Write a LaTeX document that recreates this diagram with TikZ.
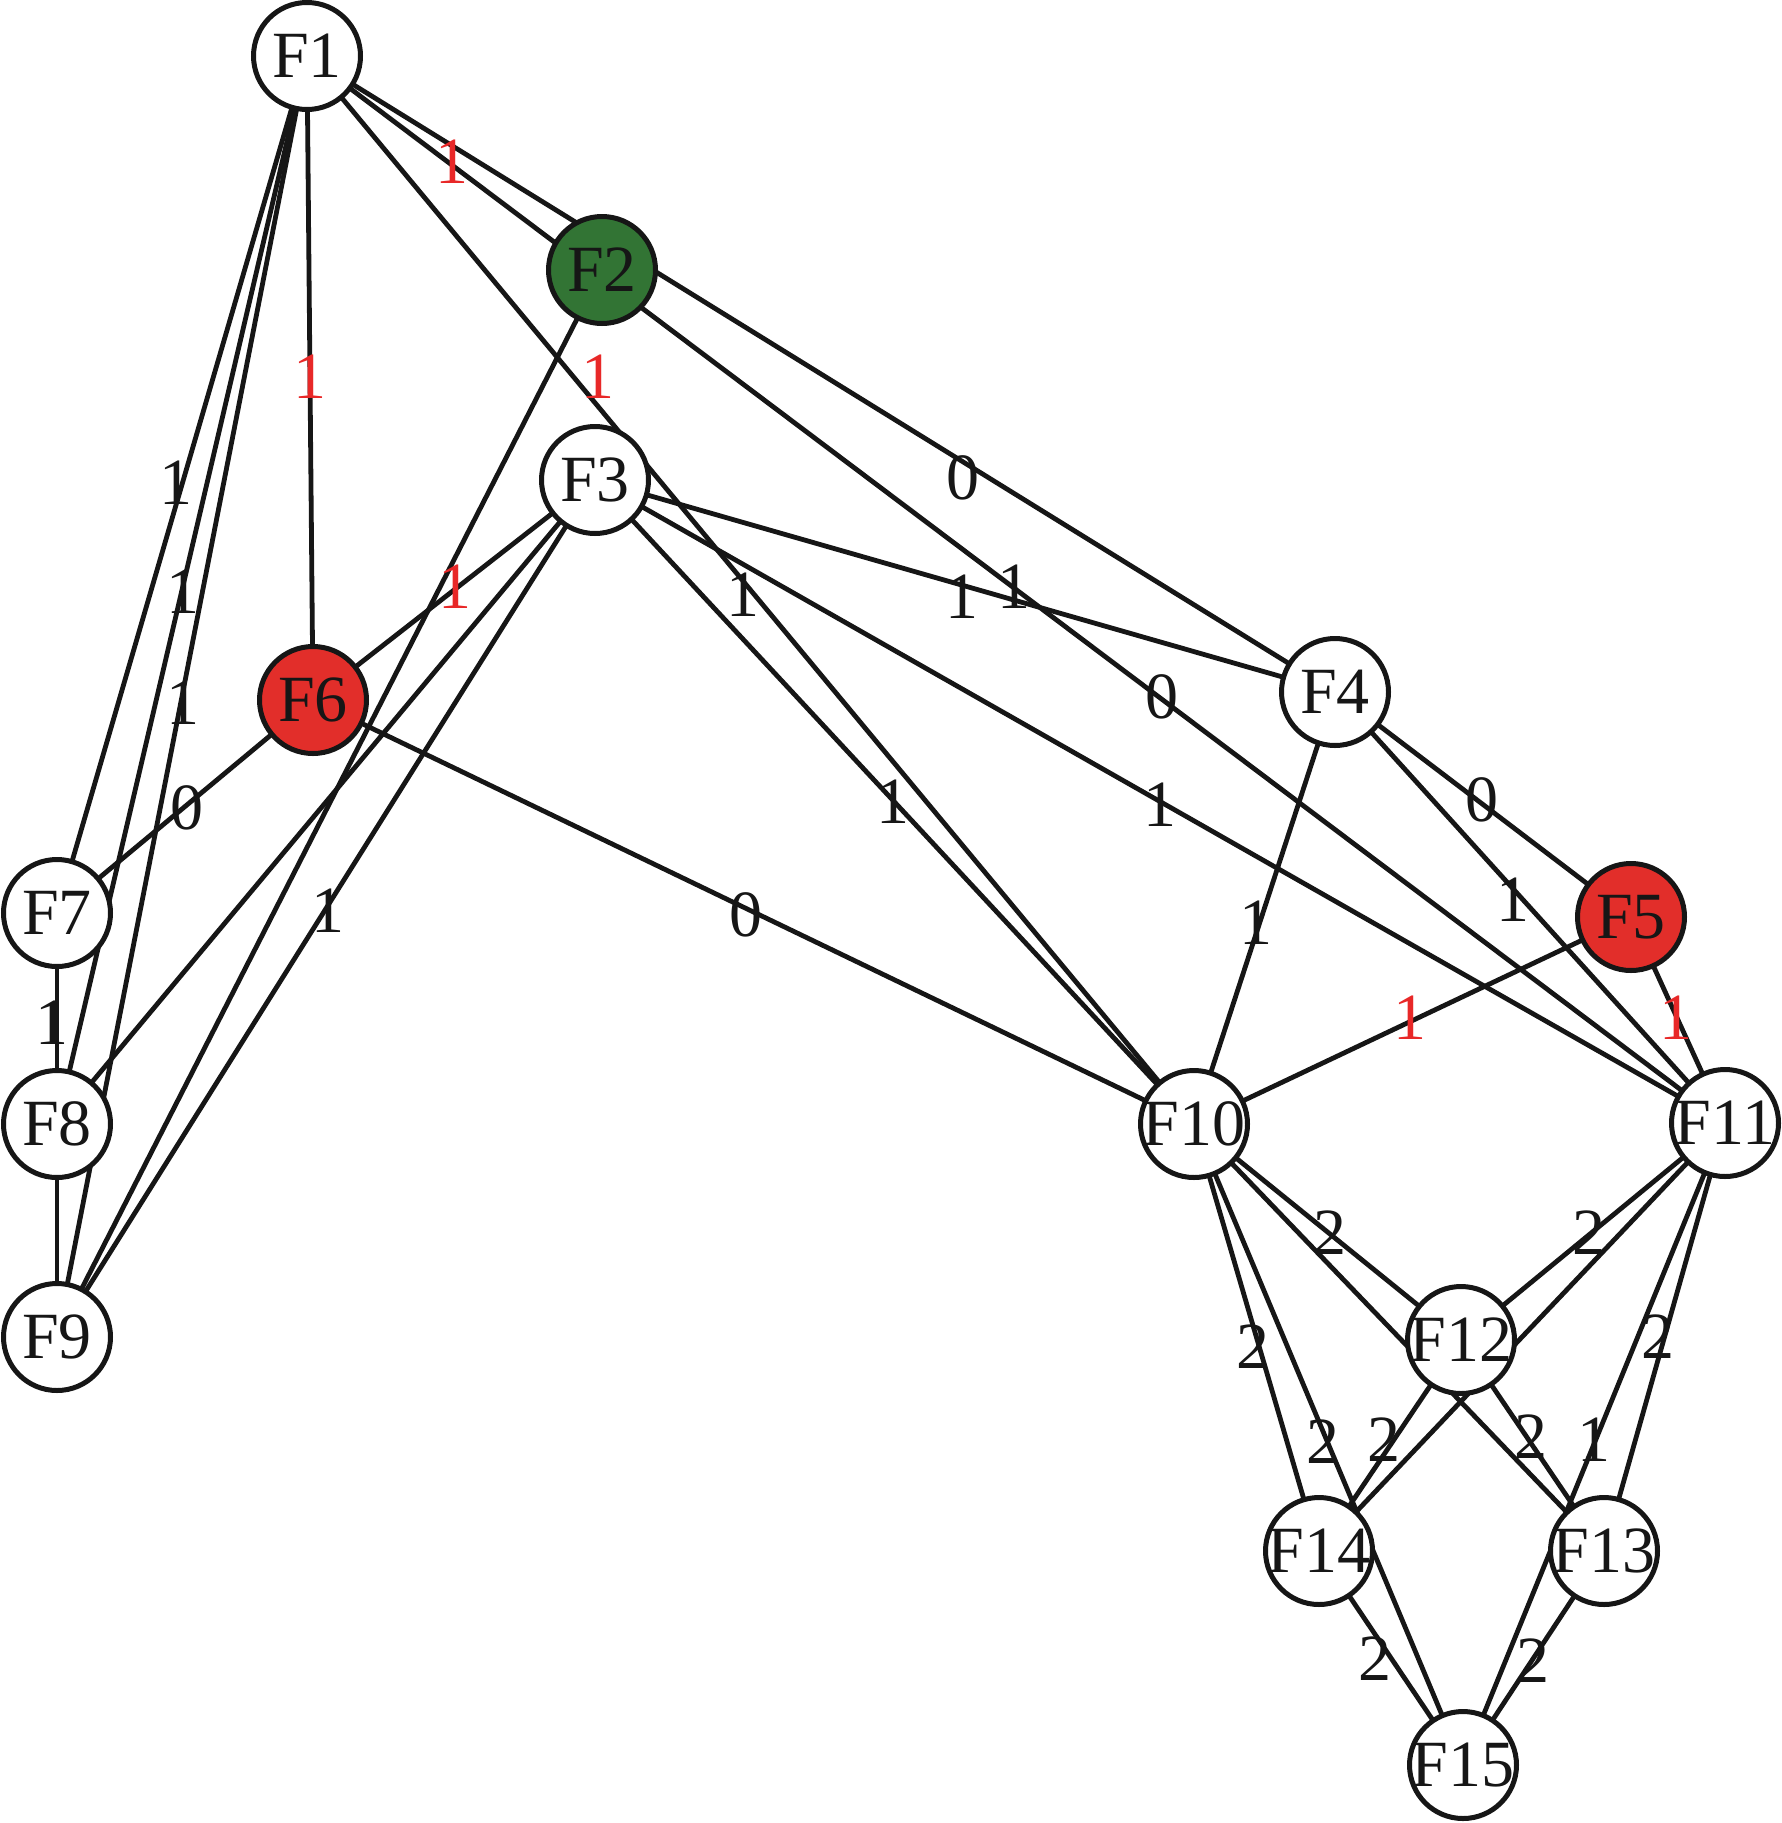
\documentclass[tikz,border=0pt]{standalone}
\usepackage{fontspec}
\setmainfont{Liberation Serif}
\usetikzlibrary{backgrounds}
\definecolor{nodegreen}{RGB}{50,116,52}
\definecolor{nodered}{RGB}{226,46,42}
\definecolor{labred}{RGB}{232,40,40}
\definecolor{ink}{RGB}{22,22,22}
\begin{document}
\begin{tikzpicture}[x=1pt,y=-1pt,
  fnode/.style={circle,draw=ink,line width=5pt,fill=white,minimum size=107pt,inner sep=0pt,
    font=\fontsize{66}{66}\selectfont,text=ink},
  greennode/.style={fnode,fill=nodegreen},
  rednode/.style={fnode,fill=nodered},
  edgeline/.style={draw=ink,line width=4.8pt},
  wlab/.style={font=\fontsize{66}{66}\selectfont,inner sep=0pt,text=ink},
  rlab/.style={wlab,text=labred}]
\useasboundingbox (0,0) rectangle (1782,1823);
% nodes
\node[fnode]     (F1)  at (307,56)    {\makebox[0pt]{F1}};
\node[greennode] (F2)  at (602,270)   {\makebox[0pt]{F2}};
\node[fnode]     (F3)  at (595,480)   {\makebox[0pt]{F3}};
\node[fnode]     (F4)  at (1335,692)  {\makebox[0pt]{F4}};
\node[rednode]   (F5)  at (1631,917)  {\makebox[0pt]{F5}};
\node[rednode]   (F6)  at (313,700)   {\makebox[0pt]{F6}};
\node[fnode]     (F7)  at (57,913)    {\makebox[0pt]{F7}};
\node[fnode]     (F8)  at (57,1124)   {\makebox[0pt]{F8}};
\node[fnode]     (F9)  at (57,1337)   {\makebox[0pt]{F9}};
\node[fnode]     (F10) at (1194,1124) {\makebox[0pt]{F10}};
\node[fnode]     (F11) at (1725,1123) {\makebox[0pt]{F11}};
\node[fnode]     (F12) at (1461,1340) {\makebox[0pt]{F12}};
\node[fnode]     (F13) at (1604,1551) {\makebox[0pt]{F13}};
\node[fnode]     (F14) at (1319,1551) {\makebox[0pt]{F14}};
\node[fnode]     (F15) at (1463,1765) {\makebox[0pt]{F15}};
% edges
\begin{scope}[on background layer]
\foreach \a/\b in {F1/F4,F1/F11,F1/F10,F1/F6,F1/F7,F1/F8,F1/F9,
  F2/F9,F3/F6,F3/F8,F3/F9,F3/F4,F3/F10,F3/F11,
  F6/F7,F6/F10,F7/F8,F8/F9,
  F4/F5,F4/F10,F4/F11,F5/F10,F5/F11,
  F10/F12,F10/F13,F10/F14,F10/F15,
  F11/F12,F11/F13,F11/F14,F11/F15,
  F12/F13,F12/F14,F14/F15,F13/F15}
  \draw[edgeline] (\a.center) -- (\b.center);
\end{scope}
% labels
\node[wlab] (l1)  at (176,483)  {1};
\node[wlab] (l2)  at (183,592)  {1};
\node[wlab] (l3)  at (183,703)  {1};
\node[wlab] (l4)  at (187,808)  {0};
\node[wlab] (l5)  at (52,1023)  {1};
\node[wlab] (l6)  at (328,911)  {1};
\node[rlab] (l7)  at (452,162)  {1};
\node[rlab] (l8)  at (310,377)  {1};
\node[rlab] (l9)  at (598,377)  {1};
\node[rlab] (l10) at (455,587)  {1};
\node[wlab] (l11) at (963,478)  {0};
\node[wlab] (l12) at (743,595)  {1};
\node[wlab] (l13) at (962,597)  {1};
\node[wlab] (l14) at (1014,587) {1};
\node[wlab] (l15) at (746,915)  {0};
\node[wlab] (l16) at (893,802)  {1};
\node[wlab] (l17) at (1160,805) {1};
\node[wlab] (l18) at (1162,697) {0};
\node[wlab] (l19) at (1256,923) {1};
\node[wlab] (l20) at (1482,800) {0};
\node[wlab] (l21) at (1513,900) {1};
\node[rlab] (l22) at (1410,1018) {1};
\node[rlab] (l23) at (1676,1018) {1};
\node[wlab] (l24) at (1330,1233) {2};
\node[wlab] (l25) at (1589,1233) {2};
\node[wlab] (l26) at (1253,1347) {2};
\node[wlab] (l27) at (1658,1337) {2};
\node[wlab] (l28) at (1323,1442) {2};
\node[wlab] (l29) at (1384,1440) {2};
\node[wlab] (l30) at (1531,1437) {2};
\node[wlab] (l31) at (1594,1440) {1};
\node[wlab] (l32) at (1375,1659) {2};
\node[wlab] (l33) at (1533,1661) {2};
\end{tikzpicture}
\end{document}
